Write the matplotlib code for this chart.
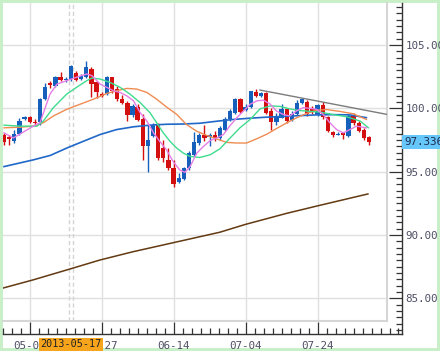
import matplotlib
matplotlib.use("Agg")
import matplotlib.pyplot as plt
import matplotlib.transforms as mtransforms
import numpy as np
from matplotlib.patches import Rectangle
from matplotlib.ticker import FixedLocator, MultipleLocator

# ── DATA (daily candles) ──
OPEN = [97.87, 97.71, 97.39, 97.98, 99.12, 99.31, 98.94, 98.94, 100.72, 101.97,
        101.78, 102.50, 102.23, 102.31, 102.77, 102.31, 102.50, 103.11, 102.05, 101.12,
        101.12, 102.45, 101.52, 100.72, 100.45, 99.47, 100.11, 99.12, 96.99, 97.79,
        98.78, 96.86, 95.93, 95.32, 94.15, 94.41, 95.27, 96.33, 97.26, 97.93,
        97.71, 97.87, 97.66, 98.32, 99.12, 99.65, 100.72, 99.84, 100.11, 101.30,
        100.98, 101.17, 99.79, 98.94, 99.26, 99.92, 99.04, 99.52, 100.45, 100.53,
        99.92, 99.52, 100.27, 99.31, 98.14, 97.93, 98.06, 97.79, 99.47, 98.86,
        98.32, 97.71]
HIGH = [98.06, 97.93, 98.32, 99.20, 99.39, 99.39, 99.12, 100.85, 101.97, 102.18,
        102.58, 102.85, 102.45, 103.38, 102.98, 102.72, 103.72, 103.24, 102.18, 101.25,
        102.58, 102.50, 101.78, 101.06, 100.59, 100.32, 100.32, 99.52, 98.72, 98.86,
        98.86, 97.53, 96.86, 95.93, 94.87, 95.40, 96.60, 98.14, 98.06, 98.67,
        98.06, 98.24, 98.59, 99.31, 99.92, 100.85, 100.85, 100.32, 101.38, 101.52,
        101.25, 101.25, 100.05, 99.65, 100.32, 100.05, 99.79, 100.64, 100.85, 100.64,
        100.19, 100.37, 100.53, 99.39, 98.24, 98.14, 98.14, 99.52, 99.65, 98.99,
        98.46, 97.79]
LOW = [97.07, 97.07, 97.26, 97.87, 99.04, 98.86, 98.72, 98.72, 100.64, 101.60,
       101.65, 102.13, 102.05, 102.18, 102.13, 102.23, 102.39, 100.90, 100.85, 100.90,
       101.06, 101.17, 100.59, 100.37, 98.99, 99.31, 98.99, 95.93, 95.00, 97.71,
       95.93, 95.80, 95.13, 93.80, 94.07, 94.34, 95.13, 96.20, 97.07, 97.39,
       96.99, 97.39, 97.53, 98.19, 98.99, 99.52, 99.65, 99.79, 100.00, 100.90,
       100.93, 99.57, 98.32, 98.72, 99.20, 98.86, 98.99, 99.47, 100.37, 99.39,
       99.52, 99.39, 99.12, 98.14, 97.71, 97.87, 97.61, 97.71, 98.72, 98.14,
       97.53, 97.07]
CLOSE = [97.34, 97.55, 97.98, 98.99, 99.31, 98.94, 98.83, 100.72, 101.70, 101.81,
         102.50, 102.23, 102.31, 103.30, 102.23, 102.58, 103.24, 101.91, 101.25, 100.96,
         102.45, 101.38, 100.72, 100.45, 99.47, 100.19, 99.04, 96.99, 97.53, 98.72,
         96.06, 96.06, 95.27, 93.99, 94.47, 95.27, 96.46, 97.34, 97.93, 97.66,
         97.87, 97.66, 98.46, 99.12, 99.79, 100.72, 99.73, 100.11, 101.33, 100.98,
         101.20, 99.65, 98.94, 99.31, 99.92, 98.99, 99.52, 100.45, 100.72, 99.52,
         99.73, 100.27, 99.31, 98.19, 97.93, 97.98, 97.87, 99.39, 98.86, 98.24,
         97.66, 97.336]

# moving average lines, sampled (candle index, price)
MA_PINK_X = [0, 1.8, 5.7, 7.0, 8.95, 10.3, 12.2, 14.1, 16.1, 17.1, 18.7, 20.0, 21.3,
             22.6, 23.9, 25.2, 26.5, 27.8, 29.1, 30.3, 31.6, 32.9, 34.2, 35.2, 36.2,
             37.5, 38.8, 40.1, 41.4, 42.7, 43.9, 45.3, 46.6, 47.9, 49.2, 50.5, 51.8,
             53.0, 54.3, 55.6, 56.9, 58.2, 59.5, 60.8, 62.1, 63.4, 64.7, 66.0, 67.3,
             68.6, 70.5]
MA_PINK_Y = [98.06, 97.66, 98.59, 98.86, 101.12, 101.91, 102.18, 102.45, 102.71, 102.58,
             101.91, 101.65, 101.38, 101.25, 100.98, 100.59, 99.65, 98.99, 98.06, 97.39,
             96.73, 95.80, 95.13, 94.95, 95.40, 96.46, 96.99, 97.45, 97.66, 97.93,
             98.59, 99.26, 99.79, 100.32, 100.59, 100.64, 100.32, 99.79, 99.52, 99.39,
             99.79, 100.05, 100.00, 99.92, 99.52, 98.86, 98.32, 98.06, 98.32, 98.59,
             98.46]
MA_GREEN_X = [0, 3.1, 6.4, 7.65, 9.6, 12.2, 14.1, 16.1, 17.1, 18.7, 20.6, 22.6, 24.5,
              26.5, 28.4, 29.7, 31.0, 32.3, 33.6, 34.9, 36.2, 38.1, 40.1, 42.0, 44.0,
              45.9, 47.9, 49.8, 51.8, 53.7, 55.6, 57.6, 59.5, 61.5, 64.1, 66.7, 69.3,
              70.9]
MA_GREEN_Y = [98.67, 98.59, 98.59, 98.99, 100.05, 101.12, 101.65, 102.18, 102.39, 102.31,
              102.05, 101.65, 101.12, 100.45, 99.65, 98.86, 98.06, 97.39, 96.86, 96.46,
              96.20, 96.12, 96.33, 96.80, 97.66, 98.46, 99.12, 99.95, 100.19, 100.15,
              99.95, 99.82, 99.76, 99.70, 99.50, 99.33, 98.99, 98.46]
MA_ORANGE_X = [0, 3.1, 5.7, 7.65, 9.6, 12.2, 14.8, 17.4, 20.0, 21.9, 23.9, 25.8, 27.8,
               29.7, 31.6, 33.6, 35.5, 37.5, 39.4, 41.4, 43.3, 45.3, 47.2, 49.2, 51.1,
               53.0, 55.0, 56.9, 58.9, 60.8, 62.8, 65.4, 67.9, 70.5]
MA_ORANGE_Y = [98.46, 98.51, 98.59, 98.86, 99.39, 99.92, 100.32, 100.72, 101.17, 101.38,
               101.57, 101.52, 101.25, 100.72, 100.11, 99.52, 98.72, 98.19, 97.87, 97.58,
               97.31, 97.26, 97.26, 97.60, 97.95, 98.40, 98.85, 99.25, 99.60, 99.85,
               99.90, 99.75, 99.57, 99.12]
MA_BLUE_X = [0, 5.7, 9.0, 12.2, 15.4, 18.7, 21.9, 25.2, 28.4, 31.6, 34.9, 38.1, 41.4,
             44.6, 47.9, 51.1, 54.3, 57.6, 60.8, 64.1, 67.3, 70.5]
MA_BLUE_Y = [95.40, 95.93, 96.28, 96.86, 97.39, 97.93, 98.32, 98.54, 98.67, 98.74,
             98.76, 98.82, 98.98, 99.12, 99.22, 99.30, 99.36, 99.42, 99.48, 99.50,
             99.48, 99.26]
MA_BROWN_X = [-0.4, 5.6, 12.2, 18.7, 25.1, 32.9, 42.0, 47.0, 55.0, 60.9, 70.8]
MA_BROWN_Y = [85.79, 86.45, 87.24, 88.03, 88.68, 89.39, 90.22, 90.84, 91.71, 92.29, 93.24]

TREND_X = [49.8, 74.5]
TREND_Y = [101.44, 99.52]

TICK_POS = [5, 19, 33, 47, 61]
TICK_LABELS = ["05-07", "05-27", "06-14", "07-04", "07-24"]
PRICE_TICKS = [85, 90, 95, 100, 105]
CURSOR_IDX = 13
CURSOR_LABEL = "2013-05-17"
LAST_PRICE = 97.336

# ── LAYOUT (pixel geometry of the 440x351 canvas) ──
W, H = 440, 351
PX_X0, PX_PER_BAR = 4.0, 5.14        # pixel of candle 0, pixels per candle
PY_100, PY_PER_UNIT = 108.3, 12.67   # pixel of price 100, pixels per 1.00


def frac(left, top, right, bottom):
    return [left / W, 1 - bottom / H, (right - left) / W, (bottom - top) / H]


def idx_at(px):
    return (px - PX_X0) / PX_PER_BAR


def price_at(py):
    return 100 - (py - PY_100) / PY_PER_UNIT


plt.rcParams["font.family"] = ["DejaVu Sans Mono"]

fig = plt.figure(figsize=(W / 100, H / 100), dpi=100, facecolor="#c9efc9")
fig.patches.append(Rectangle((2.5 / W, 1 - 348 / H), 434.5 / W, 345 / H,
                             transform=fig.transFigure, facecolor="white",
                             edgecolor="none", zorder=-10))

# outer axes: carries the price scale (right) and date scale (bottom)
ax_out = fig.add_axes(frac(2.5, 3, 401.5, 334))
ax_out.set_zorder(1)
ax_out.patch.set_visible(False)
ax_out.set_xlim(idx_at(2.5), idx_at(401.5))
ax_out.set_ylim(price_at(334), price_at(3))
for side in ["top", "left"]:
    ax_out.spines[side].set_visible(False)
for side in ["right", "bottom"]:
    ax_out.spines[side].set_color("#333333")
    ax_out.spines[side].set_linewidth(1.0)

ax_out.yaxis.tick_right()
ax_out.set_yticks(PRICE_TICKS, [f"{v:.2f}" for v in PRICE_TICKS])
ax_out.yaxis.set_minor_locator(MultipleLocator(0.5))
ax_out.set_xticks(TICK_POS, TICK_LABELS)
ax_out.xaxis.set_minor_locator(FixedLocator(np.arange(TICK_POS[0] - 3 * 1.75, 77.4, 1.75)))
ax_out.tick_params(axis="y", which="major", direction="in", length=9.4, width=0.9,
                   color="#333333", labelcolor="#4e4e64", labelsize=7.8, pad=3)
ax_out.tick_params(axis="y", which="minor", direction="in", length=4.3, width=0.9,
                   color="#333333")
ax_out.tick_params(axis="x", which="major", direction="in", length=8.6, width=0.9,
                   color="#333333", labelcolor="#4e4e64", labelsize=7.8, pad=5)
ax_out.tick_params(axis="x", which="minor", direction="in", length=4.3, width=0.9,
                   color="#333333")

# inner axes: the plot area itself
ax = fig.add_axes(frac(2.5, 3, 386.5, 321))
ax.set_zorder(0)
ax.set_facecolor("white")
ax.set_xlim(idx_at(2.5), idx_at(386.5))
ax.set_ylim(price_at(321), price_at(3))
ax.set_xticks(TICK_POS)
ax.set_yticks(PRICE_TICKS)
ax.set_axisbelow(True)
ax.grid(True, color="#e0e0e0", linewidth=1.0)
ax.tick_params(length=0, labelbottom=False, labelleft=False)
for side in ["top", "left"]:
    ax.spines[side].set_visible(False)
for side in ["right", "bottom"]:
    ax.spines[side].set_color("#d6d6d6")
    ax.spines[side].set_linewidth(1.5)

# cursor (double dashed line)
for off in (-0.43, 0.43):
    ax.axvline(CURSOR_IDX + off, color="#d4d4d4", linestyle=(0, (3, 2)),
               linewidth=1.0, zorder=1)

# ── CANDLES ──
o = np.array(OPEN)
c = np.array(CLOSE)
hi = np.array(HIGH)
lo = np.array(LOW)
x = np.arange(len(o))
colors = np.where(c >= o, "#1660bb", "#d40f0f")

ax.vlines(x, lo, hi, colors=colors, linewidth=1.0, zorder=2)
ax.bar(x, np.maximum(np.abs(c - o), 0.08), bottom=np.minimum(o, c), width=0.84,
       color=colors, linewidth=0, zorder=3)

# ── MOVING AVERAGES / TREND LINE ──
ax.plot(MA_BROWN_X, MA_BROWN_Y, color="#633a12", linewidth=1.1, zorder=4)
ax.plot(MA_BLUE_X, MA_BLUE_Y, color="#2068c8", linewidth=1.2, zorder=4)
ax.plot(MA_ORANGE_X, MA_ORANGE_Y, color="#ef8c52", linewidth=1.0, zorder=4)
ax.plot(MA_GREEN_X, MA_GREEN_Y, color="#3fdc8e", linewidth=1.0, zorder=4)
ax.plot(MA_PINK_X, MA_PINK_Y, color="#e57ee5", linewidth=1.0, zorder=4)
ax.plot(TREND_X, TREND_Y, color="#7c7c7c", linewidth=1.0, zorder=4)

# ── LABELS ──
trans_x = mtransforms.blended_transform_factory(ax_out.transData, ax_out.transAxes)
ax_out.text(CURSOR_IDX, -0.0317, CURSOR_LABEL, transform=trans_x, ha="center",
            va="center", fontsize=7.3, color="#222222", clip_on=False, zorder=10,
            bbox=dict(boxstyle="square,pad=0.14", facecolor="#f7a41d", edgecolor="none"))

trans_y = mtransforms.blended_transform_factory(ax_out.transAxes, ax_out.transData)
ax_out.text(1 + 2.5 / 399, LAST_PRICE, f"{LAST_PRICE:.3f}", transform=trans_y,
            ha="left", va="center", fontsize=7.8, color="#1e2a50", clip_on=False,
            zorder=10,
            bbox=dict(boxstyle="square,pad=0.2", facecolor="#66c8fa", edgecolor="none"))

fig.savefig("out.png", dpi=100, facecolor=fig.get_facecolor())
